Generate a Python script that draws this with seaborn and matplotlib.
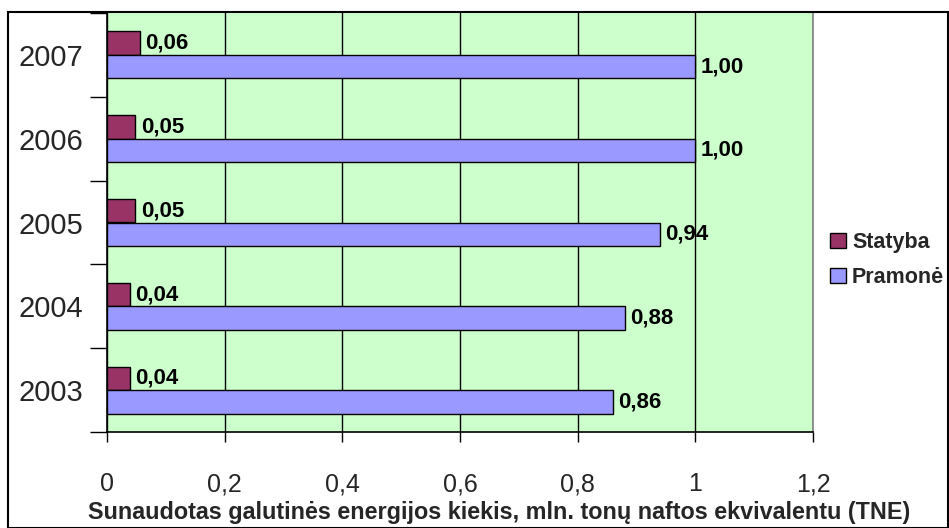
import matplotlib
matplotlib.use("Agg")
import matplotlib.pyplot as plt
import matplotlib.patches as mpatches
import seaborn as sns
import pandas as pd
import numpy as np

years = ["2007", "2006", "2005", "2004", "2003"]
statyba = [0.056, 0.048, 0.048, 0.039, 0.039]
pramone = [1.00, 1.00, 0.94, 0.88, 0.86]
series_names = ["Statyba", "Pramonė"]
colors = ["#993366", "#9999FF"]
xticks = [0, 0.2, 0.4, 0.6, 0.8, 1.0, 1.2]
xtick_labels = ["0", "0,2", "0,4", "0,6", "0,8", "1", "1,2"]
xlabel = "Sunaudotas galutinės energijos kiekis, mln. tonų naftos ekvivalentu (TNE)"

df = pd.DataFrame({
    "year": years * 2,
    "value": statyba + pramone,
    "series": [series_names[0]] * len(years) + [series_names[1]] * len(years),
})

sns.set_theme(style="white")
plt.rcParams["font.family"] = ["Liberation Sans", "DejaVu Sans"]

W, H = 949, 528
fig = plt.figure(figsize=(W / 100, H / 100), dpi=100)
left, right, top, bottom = 107, 813, 13, 432
ax = fig.add_axes([left / W, (H - bottom) / H, (right - left) / W, (bottom - top) / H])
ax.set_facecolor("#CCFFCC")

sns.barplot(data=df, y="year", x="value", hue="series", order=years,
            hue_order=series_names, palette=colors, saturation=1, width=0.56,
            edgecolor="black", linewidth=1, orient="h", ax=ax, legend=False,
            zorder=3)

for cont in ax.containers:
    vals = cont.datavalues
    labels = [f"{v:.2f}".replace(".", ",") for v in vals]
    ax.bar_label(cont, labels=labels, padding=4, fontsize=16, fontweight="bold",
                 color="black", zorder=4)

ax.set_xlim(0, 1.2)
ax.set_ylim(len(years) - 0.5, -0.5)
ax.set_xticks(xticks)
ax.set_xticklabels(xtick_labels, fontsize=18)
ax.set_yticks(range(len(years)))
ax.set_yticklabels(years, fontsize=21)
ax.set_yticks(np.arange(-0.5, len(years), 1.0), minor=True)
ax.tick_params(axis="y", which="major", length=0, pad=17)
ax.tick_params(axis="y", which="minor", length=12, width=1, color="black", direction="out", left=True)
ax.tick_params(axis="x", which="major", length=7, width=1, color="black", direction="out", bottom=True, pad=22)
ax.set_xlabel("")
ax.set_ylabel("")
ax.grid(axis="x", color="black", linewidth=1, zorder=1)
ax.set_axisbelow(True)
for s in ["left", "bottom"]:
    ax.spines[s].set_color("black")
    ax.spines[s].set_linewidth(1.2)
ax.spines["top"].set_visible(False)
ax.spines["right"].set_color("#808080")
ax.spines["right"].set_linewidth(1.2)

handles = [mpatches.Patch(facecolor=c, edgecolor="black", linewidth=1, label=n)
           for c, n in zip(colors, series_names)]
leg = fig.legend(handles=handles, loc="center left",
                 bbox_to_anchor=(830 / W, 1 - 260 / H), frameon=False,
                 borderpad=0, borderaxespad=0,
                 prop={"weight": "bold", "size": 15.5}, handlelength=0.72,
                 handleheight=0.72, handletextpad=0.3, labelspacing=0.65)

fig.text(499 / W, 1 - 513 / H, xlabel, ha="center", va="center",
         fontsize=16.8, fontweight="bold")

border = mpatches.Rectangle((8 / W, 0), (W - 9) / W, (H - 12) / H,
                            transform=fig.transFigure, fill=False,
                            edgecolor="black", linewidth=1.5, zorder=10)
fig.patches.append(border)

fig.savefig("out.png", dpi=100)
